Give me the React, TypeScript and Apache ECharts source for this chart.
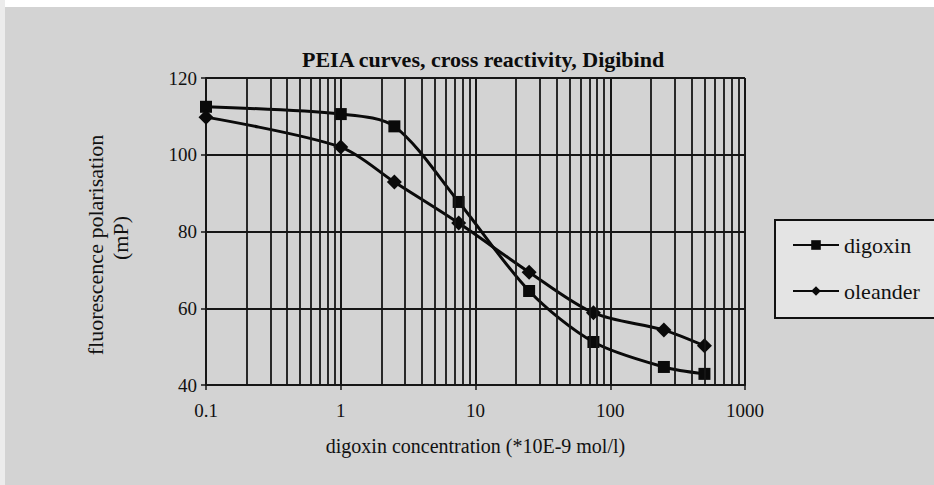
import React, { useEffect, useRef } from "react";
import * as echarts from "echarts";

// Data
const concentrations = [0.1, 1, 2.5, 7.5, 25, 75, 250, 500];
const digoxin = [112.5, 110.6, 107.4, 87.7, 64.5, 51.2, 44.7, 42.9];
const oleander = [109.8, 102.0, 92.9, 82.2, 69.4, 58.8, 54.3, 50.2];
const xTickLabels = ["0.1", "1", "10", "100", "1000"];
const decades = [0.1, 1, 10, 100];
const minorMultipliers = [2, 3, 4, 5, 6, 7, 8, 9];

const titleText = "PEIA curves, cross reactivity, Digibind";
const xName = "digoxin concentration (*10E-9 mol/l)";
const yNameLine1 = "fluorescence polarisation";
const yNameLine2 = "(mP)";

const SERIF = "Liberation Serif";

export default function App() {
  const ref = useRef<HTMLDivElement>(null);

  useEffect(() => {
    if (!ref.current) return;
    const chart = echarts.init(ref.current, null, { renderer: "svg" });

    const minorLines: { xAxis: number }[] = [];
    decades.forEach((d) =>
      minorMultipliers.forEach((m) => minorLines.push({ xAxis: d * m }))
    );

    const gridColor = "#161616";

    chart.setOption({
      animation: false,
      backgroundColor: "#d3d3d3",
      textStyle: { fontFamily: SERIF, color: "#111" },
      title: {
        text: titleText,
        left: 297,
        top: 43,
        textStyle: {
          fontFamily: SERIF,
          fontSize: 22,
          fontWeight: "bold",
          color: "#0c0c0c",
        },
      },
      graphic: [
        {
          type: "rect",
          left: 0,
          top: 0,
          shape: { width: 934, height: 7 },
          style: { fill: "#ffffff" },
          silent: true,
        },
        {
          type: "rect",
          left: 0,
          top: 0,
          shape: { width: 5, height: 485 },
          style: { fill: "#ececec" },
          silent: true,
        },
        {
          type: "text",
          x: 95,
          y: 245,
          rotation: Math.PI / 2,
          style: {
            text: yNameLine1,
            font: `22px ${SERIF}`,
            fill: "#111",
            textAlign: "center",
            textVerticalAlign: "middle",
          },
        },
        {
          type: "text",
          x: 120,
          y: 238,
          rotation: Math.PI / 2,
          style: {
            text: yNameLine2,
            font: `22px ${SERIF}`,
            fill: "#111",
            textAlign: "center",
            textVerticalAlign: "middle",
          },
        },
      ],
      legend: {
        orient: "vertical",
        left: 775,
        top: 220,
        padding: [14, 16, 16, 17],
        itemGap: 24,
        itemWidth: 46,
        itemHeight: 12,
        backgroundColor: "#e4e4e4",
        borderColor: "#111",
        borderWidth: 2,
        textStyle: { fontFamily: SERIF, fontSize: 22, color: "#111" },
        data: ["digoxin", "oleander"],
      },
      grid: { left: 206, right: 189, top: 78, bottom: 100, containLabel: false },
      xAxis: {
        type: "log",
        logBase: 10,
        min: 0.1,
        max: 1000,
        name: xName,
        nameLocation: "middle",
        nameGap: 51,
        nameTextStyle: { fontFamily: SERIF, fontSize: 20, color: "#111" },
        axisLine: { show: true, lineStyle: { color: gridColor, width: 2 } },
        axisTick: { show: true, length: 5, lineStyle: { color: gridColor, width: 1.5 } },
        axisLabel: {
          margin: 16,
          fontFamily: SERIF,
          fontSize: 19,
          color: "#111",
          formatter: (v: number) => {
            const k = Math.round(Math.log10(v));
            return xTickLabels[k + 1] ?? "";
          },
        },
        splitLine: { show: true, lineStyle: { color: gridColor, width: 2 } },
        minorTick: { show: false },
      },
      yAxis: {
        type: "value",
        min: 40,
        max: 120,
        interval: 20,
        axisLine: { show: true, lineStyle: { color: gridColor, width: 2 } },
        axisTick: { show: true, length: 5, lineStyle: { color: gridColor, width: 1.5 } },
        axisLabel: {
          margin: 9,
          fontFamily: SERIF,
          fontSize: 19,
          color: "#111",
        },
        splitLine: { show: true, lineStyle: { color: gridColor, width: 2 } },
      },
      series: [
        {
          name: "gridlines",
          type: "line",
          data: [],
          silent: true,
          markLine: {
            silent: true,
            symbol: "none",
            label: { show: false },
            lineStyle: { color: gridColor, width: 1.8, type: "solid" },
            data: minorLines,
          },
          z: 1,
        },
        {
          name: "digoxin",
          type: "line",
          smooth: 0.3,
          data: concentrations.map((x, i) => [x, digoxin[i]]),
          symbol: "rect",
          symbolSize: 12,
          lineStyle: { color: "#0a0a0a", width: 3 },
          itemStyle: { color: "#0a0a0a" },
          z: 3,
        },
        {
          name: "oleander",
          type: "line",
          smooth: 0.3,
          data: concentrations.map((x, i) => [x, oleander[i]]),
          symbol: "diamond",
          symbolSize: 15,
          lineStyle: { color: "#0a0a0a", width: 3 },
          itemStyle: { color: "#0a0a0a" },
          z: 3,
        },
      ],
    });

    return () => chart.dispose();
  }, []);

  return (
    <div
      ref={ref}
      style={{ position: "fixed", left: 0, top: 0, width: 934, height: 485 }}
    />
  );
}
